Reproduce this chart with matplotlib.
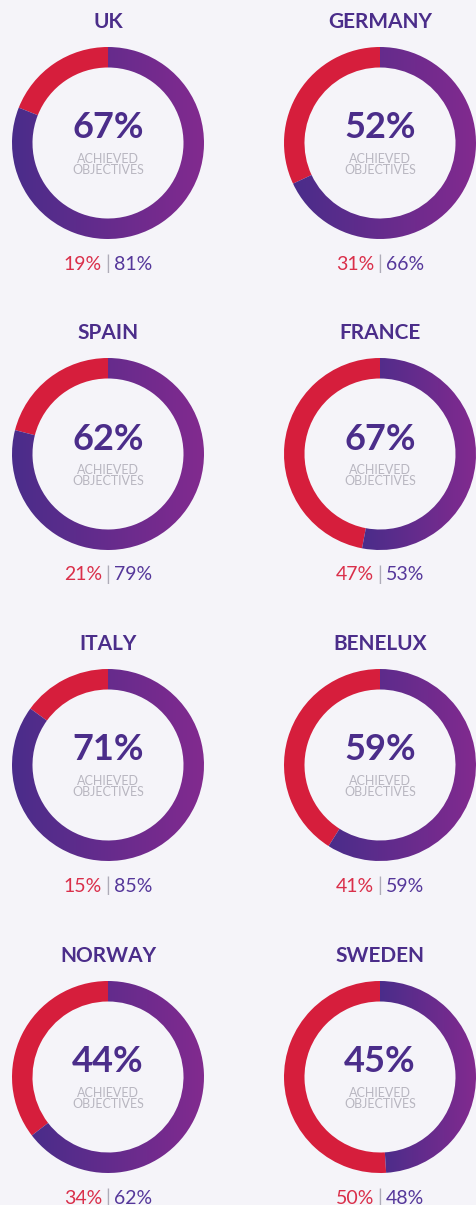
import numpy as np
import matplotlib
matplotlib.use("Agg")
import matplotlib.pyplot as plt
from matplotlib.colors import LinearSegmentedColormap

countries = ["UK", "GERMANY", "SPAIN", "FRANCE", "ITALY", "BENELUX", "NORWAY", "SWEDEN"]
achieved = [67, 52, 62, 67, 71, 59, 44, 45]
red_share = [19, 31, 21, 47, 15, 41, 34, 50]
purple_share = [81, 66, 79, 53, 85, 59, 62, 48]

W, H = 476, 1205
BG = "#f5f4f9"
RED = "#d61e3c"
DARK = "#4a2d8a"
LIGHT = "#822a8f"
TITLE_C = "#4b2d8a"
GRAY = "#b8b6c0"
RED_T = "#da2f4a"
PURP_T = "#55379a"

plt.rcParams['font.family'] = ['Lato', 'DejaVu Sans']

fig = plt.figure(figsize=(W / 100, H / 100), dpi=100, facecolor=BG)
ax = fig.add_axes([0, 0, 1, 1])
ax.set_facecolor(BG)

cmap = LinearSegmentedColormap.from_list("pg", [DARK, LIGHT])
grad = np.linspace(0, 1, 256).reshape(1, -1)

col_x = [108, 380]
row_y = [143, 454, 765, 1077]
R_OUT = 96
RING = 20.5

for i, name in enumerate(countries):
    cx = col_x[i % 2]
    cy_pix = row_y[i // 2]
    cy = H - cy_pix
    wedges, _ = ax.pie([red_share[i], purple_share[i]], startangle=90, counterclock=True,
                       radius=R_OUT, center=(cx, cy), colors=[RED, "none"],
                       wedgeprops=dict(width=RING, linewidth=0), frame=True)
    pw = wedges[1]
    ext = pw.get_path().get_extents()
    im = ax.imshow(grad, cmap=cmap, extent=[ext.x0, ext.x1, ext.y0, ext.y1],
                   interpolation='bilinear', aspect='auto', zorder=1)
    im.set_clip_path(pw)

    ax.text(cx, H - (cy_pix - 121), name, ha='center', va='center', fontsize=15,
            fontweight='bold', color=TITLE_C)
    ax.text(cx, H - (cy_pix - 15), f"{achieved[i]}%", ha='center', va='center',
            fontsize=26, fontweight='bold', color=TITLE_C)
    ax.text(cx, H - (cy_pix + 16), "ACHIEVED", ha='center', va='center', fontsize=9,
            color=GRAY)
    ax.text(cx, H - (cy_pix + 27), "OBJECTIVES", ha='center', va='center', fontsize=9,
            color=GRAY)
    # bottom label
    ly = H - (cy_pix + 121)
    ax.text(cx - 6, ly, f"{red_share[i]}%", ha='right', va='center', fontsize=14,
            fontweight='normal', color=RED_T)
    ax.text(cx, ly, "|", ha='center', va='center', fontsize=14, fontweight='normal',
            color="#aeacb8")
    ax.text(cx + 6, ly, f"{purple_share[i]}%", ha='left', va='center', fontsize=14,
            fontweight='normal', color=PURP_T)

ax.set_xlim(0, W)
ax.set_ylim(0, H)
ax.set_aspect('auto')
ax.axis('off')
fig.savefig("out.png", dpi=100, facecolor=BG)
